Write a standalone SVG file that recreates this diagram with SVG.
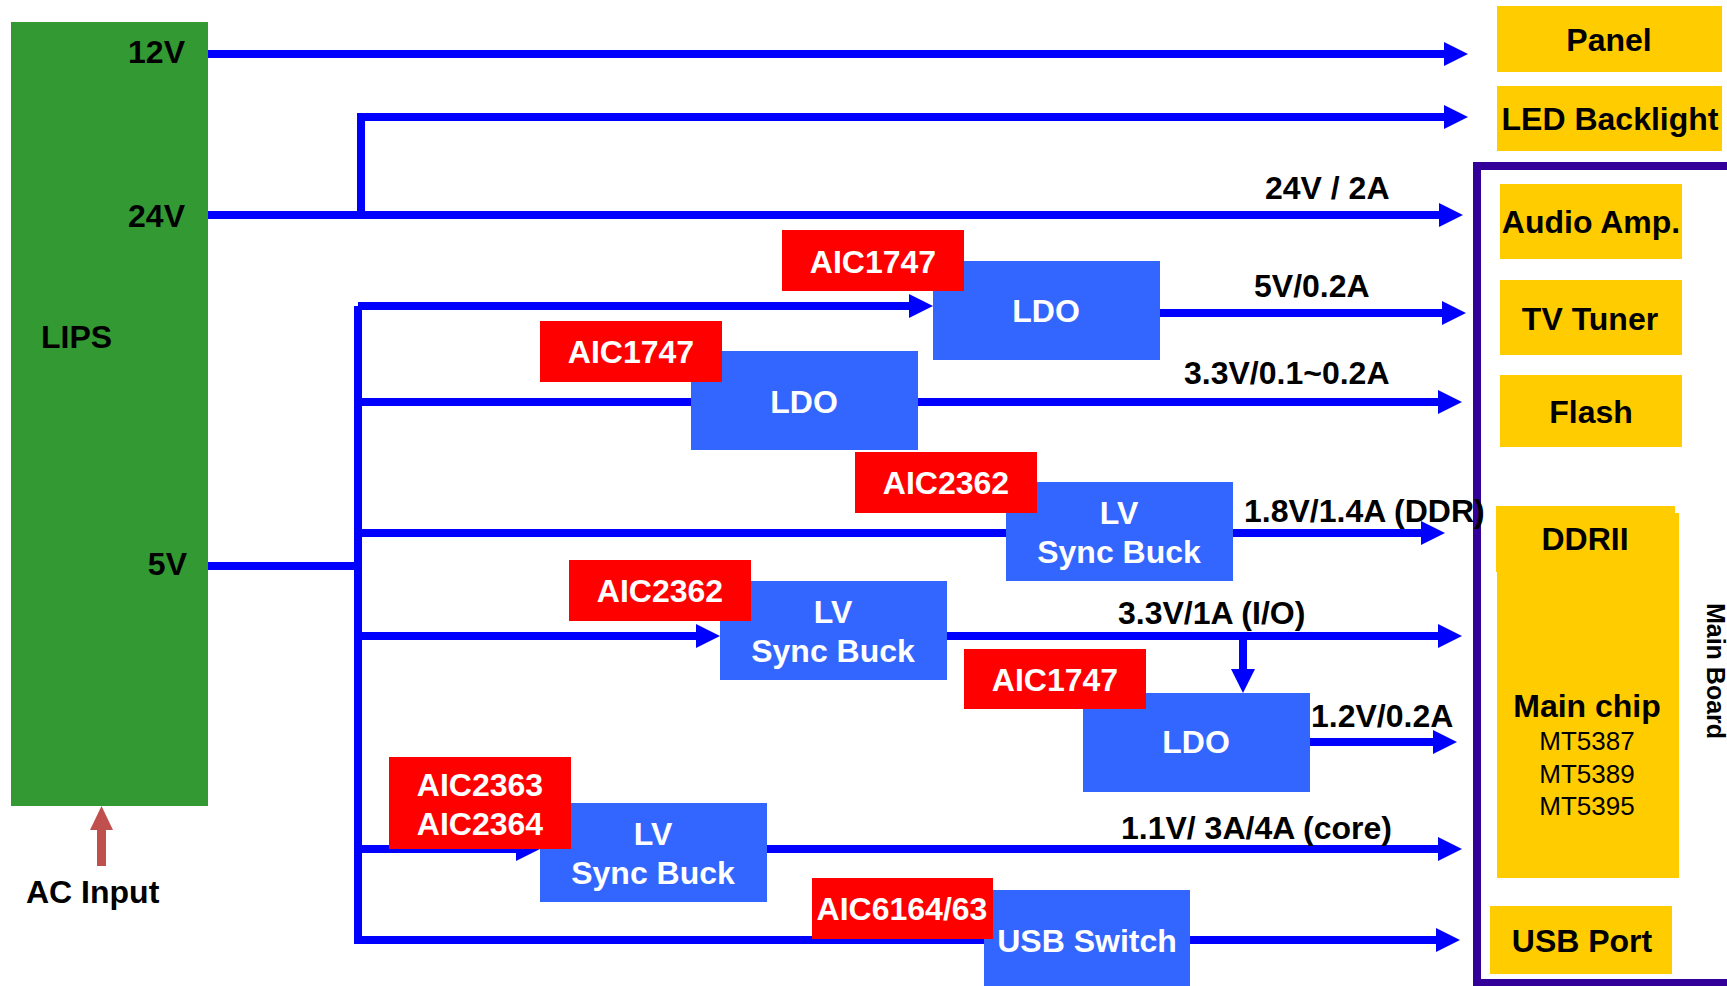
<svg xmlns="http://www.w3.org/2000/svg" width="1727" height="986" viewBox="0 0 1727 986">
<style>
.t{font-family:"Liberation Sans",Arial,sans-serif;font-weight:bold;font-size:32px;fill:#000}
.w{font-family:"Liberation Sans",Arial,sans-serif;font-weight:bold;font-size:32px;fill:#fff;text-anchor:middle}
.m{text-anchor:middle}
.r{text-anchor:end}
.n{font-family:"Liberation Sans",Arial,sans-serif;font-weight:normal;font-size:26px;fill:#000;text-anchor:middle}
.blue{fill:#3366FF}
.red{fill:#FF0000}
.yel{fill:#FFCC00}
.ln{fill:none;stroke:#0000FF;stroke-width:8;stroke-linejoin:miter}
</style>
<defs>
<marker id="ah" markerUnits="userSpaceOnUse" markerWidth="24" markerHeight="24" viewBox="0 0 24 24" refX="2" refY="12" orient="auto">
<path d="M0,0 L24,12 L0,24 Z" fill="#0000FF"/>
</marker>
</defs>
<rect width="1727" height="986" fill="#fff"/>

<g id="mainboard">
<rect x="1477" y="166" width="270" height="817" fill="none" stroke="#330099" stroke-width="8"/>
<text class="t" style="font-size:25px" text-anchor="middle" transform="translate(1707,671) rotate(90)">Main Board</text>
</g>

<g id="lips">
<rect x="11" y="22" width="197" height="784" fill="#339933"/>
<text class="t r" x="185" y="63">12V</text>
<text class="t r" x="185" y="227">24V</text>
<text class="t r" x="187" y="575">5V</text>
<text class="t" x="41" y="348">LIPS</text>
</g>

<g id="ac-input">
<rect x="97" y="828" width="9" height="38" fill="#C0504D"/>
<polygon points="101.5,806 113,830 90,830" fill="#C0504D"/>
<text class="t" x="26" y="903">AC Input</text>
</g>

<g id="connectors">
<path class="ln" d="M208,54 H1446" marker-end="url(#ah)"/>
<path class="ln" d="M208,215 H1441" marker-end="url(#ah)"/>
<path class="ln" d="M361,215 V117 H1446" marker-end="url(#ah)"/>
<path class="ln" d="M208,566 H358"/>
<path class="ln" d="M358,306 V940 H984"/>
<path class="ln" d="M358,306 H911" marker-end="url(#ah)"/>
<path class="ln" d="M358,402 H691"/>
<path class="ln" d="M358,533 H1006"/>
<path class="ln" d="M358,636 H698" marker-end="url(#ah)"/>
<path class="ln" d="M358,849 H518" marker-end="url(#ah)"/>
<path class="ln" d="M1160,313 H1444" marker-end="url(#ah)"/>
<path class="ln" d="M918,402 H1440" marker-end="url(#ah)"/>
<path class="ln" d="M1233,533 H1423" marker-end="url(#ah)"/>
<path class="ln" d="M946,636 H1440" marker-end="url(#ah)"/>
<path class="ln" d="M1243,636 V671" marker-end="url(#ah)"/>
<path class="ln" d="M1306,742 H1435" marker-end="url(#ah)"/>
<path class="ln" d="M767,849 H1440" marker-end="url(#ah)"/>
<path class="ln" d="M1190,940 H1438" marker-end="url(#ah)"/>
<text class="t" x="1265" y="199">24V / 2A</text>
<text class="t" x="1254" y="297">5V/0.2A</text>
<text class="t" x="1184" y="384">3.3V/0.1~0.2A</text>
<text class="t" x="1244" y="522">1.8V/1.4A (DDR)</text>
<text class="t" x="1118" y="624">3.3V/1A (I/O)</text>
<text class="t" x="1311" y="727">1.2V/0.2A</text>
<text class="t" x="1121" y="839">1.1V/ 3A/4A (core)</text>
</g>

<g id="ldo1">
<rect class="blue" x="933" y="261" width="227" height="99"/>
<text class="w" x="1046" y="322">LDO</text>
<rect class="red" x="782" y="230" width="182" height="61"/>
<text class="w" x="873" y="273">AIC1747</text>
</g>

<g id="ldo2">
<rect class="blue" x="691" y="351" width="227" height="99"/>
<text class="w" x="804" y="413">LDO</text>
<rect class="red" x="540" y="321" width="182" height="61"/>
<text class="w" x="631" y="363">AIC1747</text>
</g>

<g id="buck1">
<rect class="blue" x="1006" y="482" width="227" height="99"/>
<text class="w" x="1119" y="524">LV</text>
<text class="w" x="1119" y="563">Sync Buck</text>
<rect class="red" x="855" y="452" width="182" height="61"/>
<text class="w" x="946" y="494">AIC2362</text>
</g>

<g id="buck2">
<rect class="blue" x="720" y="581" width="227" height="99"/>
<text class="w" x="833" y="623">LV</text>
<text class="w" x="833" y="662">Sync Buck</text>
<rect class="red" x="569" y="560" width="182" height="61"/>
<text class="w" x="660" y="602">AIC2362</text>
</g>

<g id="ldo3">
<rect class="blue" x="1083" y="693" width="227" height="99"/>
<text class="w" x="1196" y="753">LDO</text>
<rect class="red" x="964" y="649" width="182" height="60"/>
<text class="w" x="1055" y="691">AIC1747</text>
</g>

<g id="buck3">
<rect class="blue" x="540" y="803" width="227" height="99"/>
<text class="w" x="653" y="845">LV</text>
<text class="w" x="653" y="884">Sync Buck</text>
<rect class="red" x="389" y="757" width="182" height="92"/>
<text class="w" x="480" y="796">AIC2363</text>
<text class="w" x="480" y="835">AIC2364</text>
</g>

<g id="usbswitch">
<rect class="blue" x="984" y="890" width="206" height="96"/>
<text class="w" x="1087" y="952">USB Switch</text>
<rect class="red" x="812" y="878" width="181" height="61"/>
<text class="w" x="902" y="920">AIC6164/63</text>
</g>

<g id="panel">
<rect class="yel" x="1497" y="6" width="225" height="66"/>
<text class="t m" x="1609" y="51">Panel</text>
</g>
<g id="ledbacklight">
<rect class="yel" x="1497" y="86" width="225" height="65"/>
<text class="t m" x="1610" y="130">LED Backlight</text>
</g>
<g id="audioamp">
<rect class="yel" x="1500" y="184" width="182" height="75"/>
<text class="t m" x="1591" y="233">Audio Amp.</text>
</g>
<g id="tvtuner">
<rect class="yel" x="1500" y="280" width="182" height="75"/>
<text class="t m" x="1590" y="330">TV Tuner</text>
</g>
<g id="flash">
<rect class="yel" x="1500" y="375" width="182" height="72"/>
<text class="t m" x="1591" y="423">Flash</text>
</g>
<g id="mainchip">
<rect class="yel" x="1497" y="513" width="182" height="365"/>
<text class="t m" x="1587" y="717">Main chip</text>
<text class="n" x="1587" y="750">MT5387</text>
<text class="n" x="1587" y="783">MT5389</text>
<text class="n" x="1587" y="815">MT5395</text>
</g>
<g id="ddrii">
<rect class="yel" x="1496" y="506" width="179" height="66"/>
<text class="t m" x="1585" y="550">DDRII</text>
</g>
<g id="usbport">
<rect class="yel" x="1490" y="906" width="182" height="68"/>
<text class="t m" x="1582" y="952">USB Port</text>
</g>
</svg>
